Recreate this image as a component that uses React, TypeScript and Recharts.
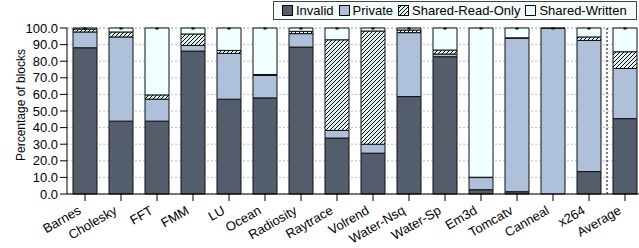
import React from 'react';
import { BarChart, Bar, XAxis, YAxis, CartesianGrid, ReferenceLine, LabelList } from 'recharts';

const categories = [
  'Barnes', 'Cholesky', 'FFT', 'FMM', 'LU', 'Ocean', 'Radiosity', 'Raytrace',
  'Volrend', 'Water-Nsq', 'Water-Sp', 'Em3d', 'Tomcatv', 'Canneal', 'x264', 'Average',
];
const invalid = [88.1, 43.9, 43.9, 86.1, 57.1, 57.9, 88.5, 33.7, 24.6, 58.7, 82.7, 2.6, 1.4, 0, 13.5, 45.4];
const privateBlocks = [9.5, 50.7, 13.2, 3.4, 27.6, 13.5, 8.1, 4.6, 5.4, 38.5, 1.6, 7.3, 92.4, 99.8, 79.0, 30.2];
const sharedReadOnly = [1.8, 3.0, 2.6, 6.9, 1.8, 0.6, 1.4, 54.6, 68.2, 1.6, 2.4, 0.2, 0.3, 0, 2.1, 10.1];
const sharedWritten = [0.6, 2.4, 40.3, 3.6, 13.5, 28.0, 2.0, 7.1, 1.8, 1.2, 13.3, 89.9, 5.9, 0.2, 5.4, 14.3];
const yTicks = [0, 10, 20, 30, 40, 50, 60, 70, 80, 90, 100];

const FONT = '"Liberation Sans", Arial, Helvetica, sans-serif';

const series = [
  { key: 'invalid', name: 'Invalid', fill: '#535d6b' },
  { key: 'private', name: 'Private', fill: '#afc0db' },
  { key: 'sro', name: 'Shared-Read-Only', fill: 'url(#hatch)' },
  { key: 'sw', name: 'Shared-Written', fill: '#f0ffff' },
];

const data = categories.map((name, i) => ({
  name,
  invalid: invalid[i],
  private: privateBlocks[i],
  sro: sharedReadOnly[i],
  sw: sharedWritten[i],
}));

// "/" hatching, drawn pixel-crisp like the original bitmap
function HatchPattern({ id }: { id: string }) {
  return (
    <pattern id={id} patternUnits="userSpaceOnUse" width={4} height={4}>
      <rect width={4} height={4} fill="#e2f5f5" />
      <path
        d="M0,4 L4,0 M-1,1 L1,-1 M3,5 L5,3"
        stroke="#000"
        strokeWidth={1}
        shapeRendering="crispEdges"
      />
    </pattern>
  );
}

function XTick(props: any) {
  const { x, y, payload } = props;
  return (
    <g transform={`translate(${x - 3},${y + 10}) rotate(-30)`}>
      <text x={0} y={0} textAnchor="end" fontSize={13} fontFamily={FONT} fill="#000">
        {payload.value}
      </text>
    </g>
  );
}

function TopMark(props: any) {
  const { x, y, width } = props;
  return <rect x={x + width / 2 - 1.5} y={y - 0.5} width={3} height={2} fill="#000" />;
}

function Legend() {
  return (
    <div
      style={{
        position: 'absolute',
        left: 273,
        top: 1,
        height: 17,
        border: '1px solid #444',
        background: '#f4fbfb',
        display: 'flex',
        alignItems: 'center',
        padding: '0 9px 0 8px',
        fontFamily: FONT,
        fontSize: 13,
        color: '#000',
        whiteSpace: 'nowrap',
      }}
    >
      {series.map((s, i) => (
        <span key={s.key} style={{ display: 'flex', alignItems: 'center', marginLeft: i ? 5 : 0 }}>
          <svg width={11} height={11} style={{ marginRight: 3 }}>
            <defs>
              <HatchPattern id={`legend-hatch-${i}`} />
            </defs>
            <rect
              x={0.5}
              y={0.5}
              width={10}
              height={10}
              fill={s.key === 'sro' ? `url(#legend-hatch-${i})` : s.fill}
              stroke="#000"
              strokeWidth={1}
            />
          </svg>
          {s.name}
        </span>
      ))}
    </div>
  );
}

export default function App() {
  return (
    <div style={{ position: 'absolute', left: 0, top: 0, width: 639, height: 248, overflow: 'hidden', background: '#fff' }}>
      <BarChart
        width={650}
        height={248}
        data={data}
        margin={{ top: 28, right: 7, bottom: 0, left: 0 }}
        style={{ fontFamily: FONT }}
      >
        <defs>
          <HatchPattern id="hatch" />
        </defs>
        <CartesianGrid vertical={false} stroke="#b0bada" strokeDasharray="2 2" />
        <XAxis
          dataKey="name"
          interval={0}
          height={54}
          tickSize={7}
          tickMargin={2}
          tick={<XTick />}
          axisLine={{ stroke: '#000' }}
          tickLine={{ stroke: '#000' }}
        />
        <YAxis
          width={67}
          domain={[0, 100]}
          ticks={yTicks}
          interval={0}
          tickSize={7}
          tickMargin={2}
          tickFormatter={(v: number) => v.toFixed(1)}
          tick={{ fontSize: 13, fill: '#000', fontFamily: FONT }}
          axisLine={{ stroke: '#000' }}
          tickLine={{ stroke: '#000' }}
          label={{
            content: () => (
              <text
                transform="translate(25,105) rotate(-90)"
                textAnchor="middle"
                fontSize={12}
                fontFamily={FONT}
                fill="#000"
              >
                Percentage of blocks
              </text>
            ),
          }}
        />
        <ReferenceLine x="Average" position="start" stroke="#000" strokeDasharray="2 2" />
        {series.map((s) => (
          <Bar
            key={s.key}
            dataKey={s.key}
            name={s.name}
            stackId="a"
            barSize={24}
            fill={s.fill}
            stroke="#111"
            strokeWidth={1}
            isAnimationActive={false}
          >
            {s.key === 'sw' && <LabelList dataKey="sw" content={<TopMark />} />}
          </Bar>
        ))}
      </BarChart>
      <Legend />
    </div>
  );
}
